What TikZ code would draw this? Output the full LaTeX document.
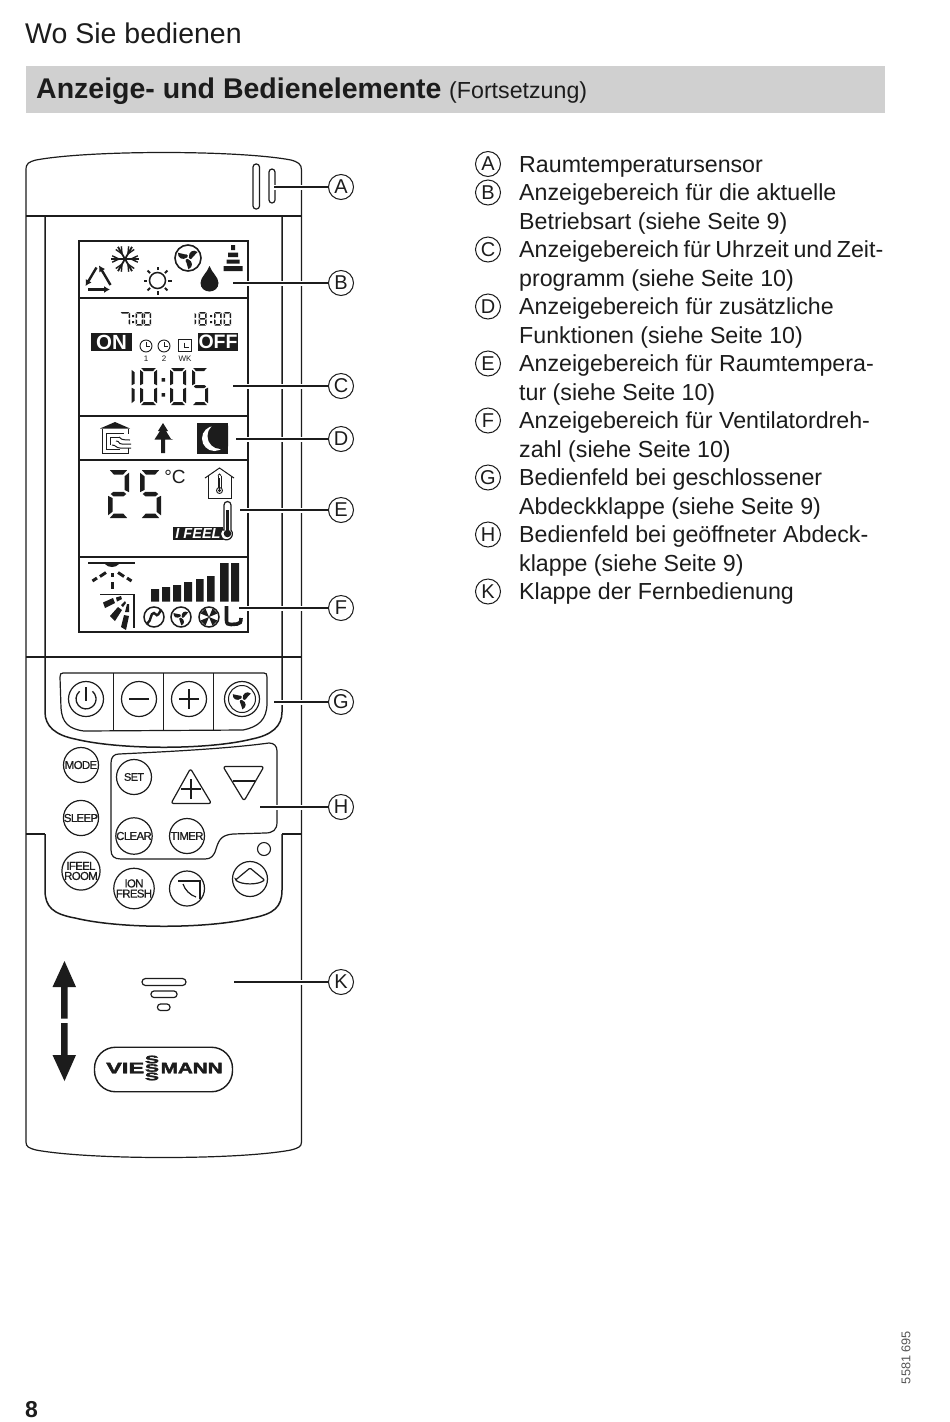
\documentclass[tikz,border=0pt]{standalone}
\usepackage{fontspec}
\usepackage{graphicx}
\setmainfont{Liberation Sans}
\usetikzlibrary{calc,arrows.meta}
\definecolor{ink}{HTML}{1C1C1C}
\definecolor{band}{HTML}{D0D0D0}
\newcommand{\fsz}[1]{\fontsize{#1}{#1}\selectfont}
\newcommand{\keyfont}[1]{\fsz{#1}\addfontfeatures{LetterSpace=-6,FakeBold=0.5}}
\newcommand{\logofont}{\bfseries\addfontfeatures{FakeBold=2.5}}
\tikzset{
  every picture/.style={x=1pt,y=-1pt},
  ln/.style={draw=ink,line width=1.2pt},
  thickl/.style={draw=ink,line width=1.5pt},
  txt/.style={anchor=base west,inner sep=0pt,text=ink,font=\fsz{23.2}},
  tag/.style={circle,draw=ink,line width=1pt,fill=white,minimum size=25pt,inner sep=0pt,text=ink,font=\fsz{20}},
  listtag/.style={tag},
  callout/.style={draw=ink,line width=1.3pt,preaction={draw=white,line width=5pt}},
  keycirc/.style={circle,draw=ink,line width=1.2pt,fill=white,minimum size=35pt,inner sep=0pt,text=ink,align=center},
  triarrow/.style={draw=ink,line width=2.4pt},
}
% seven segment digit: x y w h t segments
\newcommand{\sevseg}[6]{%
  \def\dx{#1}\def\dy{#2}\def\dw{#3}\def\dh{#4}\def\dt{#5}%
  \foreach \s in {#6}{\csname sg\s\endcsname}}
\newcommand{\sga}{\fill[ink] (\dx+\dt*.4,\dy) -- (\dx+\dw-\dt*.4,\dy) -- (\dx+\dw-\dt*1.3,\dy+\dt) -- (\dx+\dt*1.3,\dy+\dt) -- cycle;}
\newcommand{\sgd}{\fill[ink] (\dx+\dt*.4,\dy+\dh) -- (\dx+\dw-\dt*.4,\dy+\dh) -- (\dx+\dw-\dt*1.3,\dy+\dh-\dt) -- (\dx+\dt*1.3,\dy+\dh-\dt) -- cycle;}
\newcommand{\sgg}{\fill[ink] (\dx+\dt*.6,\dy+\dh*.5) -- (\dx+\dt*1.2,\dy+\dh*.5-\dt*.5) -- (\dx+\dw-\dt*1.2,\dy+\dh*.5-\dt*.5) -- (\dx+\dw-\dt*.6,\dy+\dh*.5) -- (\dx+\dw-\dt*1.2,\dy+\dh*.5+\dt*.5) -- (\dx+\dt*1.2,\dy+\dh*.5+\dt*.5) -- cycle;}
\newcommand{\sgf}{\fill[ink] (\dx,\dy+\dt*.6) -- (\dx+\dt,\dy+\dt*1.4) -- (\dx+\dt,\dy+\dh*.5-\dt*.9) -- (\dx,\dy+\dh*.5-\dt*.4) -- cycle;}
\newcommand{\sge}{\fill[ink] (\dx,\dy+\dh*.5+\dt*.4) -- (\dx+\dt,\dy+\dh*.5+\dt*.9) -- (\dx+\dt,\dy+\dh-\dt*1.4) -- (\dx,\dy+\dh-\dt*.6) -- cycle;}
\newcommand{\sgb}{\fill[ink] (\dx+\dw,\dy+\dt*.6) -- (\dx+\dw-\dt,\dy+\dt*1.4) -- (\dx+\dw-\dt,\dy+\dh*.5-\dt*.9) -- (\dx+\dw,\dy+\dh*.5-\dt*.4) -- cycle;}
\newcommand{\sgc}{\fill[ink] (\dx+\dw,\dy+\dh*.5+\dt*.4) -- (\dx+\dw-\dt,\dy+\dh*.5+\dt*.9) -- (\dx+\dw-\dt,\dy+\dh-\dt*1.4) -- (\dx+\dw,\dy+\dh-\dt*.6) -- cycle;}
% three-bladed fan: x y r
\newcommand{\fanblades}[3]{%
  \foreach \a in {15,135,255}{%
    \begin{scope}[shift={(#1,#2)},rotate=\a,scale=#3]
      \fill[ink] (0.08,0) .. controls (.15,-.5) and (.62,-.62) .. (.9,-.28)
        .. controls (.72,-.12) and (.4,-.02) .. (.3,.12) .. controls (.2,.2) and (.1,.12) .. cycle;
    \end{scope}}}
\begin{document}
\begin{tikzpicture}
\useasboundingbox (0,0) rectangle (950,1422);
\fill[white] (0,0) rectangle (950,1422);
% header
\node[txt,font=\fsz{28.5}] (title) at (25,43) {Wo Sie bedienen};
\fill[band] (26,66) rectangle (884.5,113);
\node[txt,font=\fsz{28.5}\bfseries] (head) at (36,98) {Anzeige- und Bedienelemente};
\node[txt] (headb) at (449,98.5) {(Fortsetzung)};
\node[txt,font=\fsz{23}\bfseries] (pageno) at (25,1417) {8};
\node[inner sep=0pt,rotate=90,text=ink!75,font=\fsz{12.7}] (docno) at (906,1357.5) {5581 695};
% body of the remote control
\draw[ln] (26,170) .. controls (26,163) and (29,162) .. (36,160) .. controls (90,150) and (238,150) .. (291,160)
  .. controls (298,162) and (301.5,164) .. (301.5,170) -- (301.5,1142)
  .. controls (301.5,1147) and (298,1148) .. (291,1150) .. controls (238,1160) and (90,1160) .. (36,1150)
  .. controls (29,1148) and (26,1147) .. (26,1142) -- cycle;
\draw[ln] (26,216) -- (301.5,216);
\draw[ln] (26,657) -- (301.5,657);
\draw[thickl] (45,216) -- (45,712) .. controls (45,726) and (55,735) .. (75,739) .. controls (120,750) and (208,750) .. (252,739)
  .. controls (272,735) and (282,726) .. (282,712) -- (282,216);
\draw[ln] (26,834) -- (45,834);
\draw[ln] (282,834) -- (301.5,834);
\draw[thickl] (45,834) -- (45,890) .. controls (45,907) and (53,914) .. (75,918) .. controls (120,929) and (208,929) .. (252,918)
  .. controls (274,914) and (282,907) .. (282,890) -- (282,834);
% sensor slits
\draw[ln,rounded corners=3pt] (253,164) rectangle (259.5,209);
\draw[ln,rounded corners=3pt] (269,169) rectangle (275,203);
% LCD
\draw[thickl,fill=white] (79,241) rectangle (248,632);
\draw[thickl] (79,298) -- (248,298) (79,416) -- (248,416) (79,460) -- (248,460) (79,557) -- (248,557);
% --- B: mode icons
\draw[triarrow,-{Latex[length=6pt,width=7pt]}] (88,289.5) -- (110,289.5);
\draw[triarrow,{Latex[length=6pt,width=7pt]}-] (85.5,286) -- (96.5,267.5);
\draw[triarrow,{Latex[length=6pt,width=7pt]}-] (99,265.5) -- (110.5,285);
% snowflake
\begin{scope}[shift={(125,259)}]
\foreach \a in {0,60,120}{
  \draw[ln,line width=1.8pt] (\a:14) -- (\a+180:14);
  \foreach \b in {0,180}{
    \draw[ln,line width=1.4pt] ($(\a+\b:9)+(\a+\b+40:5)$) -- (\a+\b:6) -- ($(\a+\b:9)+(\a+\b-40:5)$);
  }}
\end{scope}
% sun
\draw[ln,line width=1.5pt] (157.5,280.5) circle [radius=8pt];
\foreach \a in {0,45,...,315}{\draw[ln,line width=2pt] ($(157.5,280.5)+(\a:10.5)$) -- ($(157.5,280.5)+(\a:14)$);}
% fan
\draw[ln,line width=1.6pt] (188,258) circle [radius=13pt];
\fanblades{188}{258}{12}
% drop
\fill[ink] (209.5,266) .. controls (212,273) and (218.5,277) .. (218.5,283) .. controls (218.5,288) and (214.5,291.5) .. (209.5,291.5)
  .. controls (204.5,291.5) and (200.5,288) .. (200.5,283) .. controls (200.5,277) and (207,273) .. (209.5,266) -- cycle;
% stack
\fill[ink] (231,245) rectangle (235,250) (228,252.5) rectangle (238,257) (226.5,259.5) rectangle (239.5,263.5) (223.5,266) rectangle (242.5,271);
% --- C: clock displays
\sevseg{120}{312}{10}{13.5}{1.5}{a,b,c}
\fill[ink] (132,315) rectangle (134,317) (132,321) rectangle (134,323);
\sevseg{135.5}{312}{7.5}{13.5}{1.5}{a,b,c,d,e,f}
\sevseg{143.5}{312}{7.5}{13.5}{1.5}{a,b,c,d,e,f}
\sevseg{194.5}{312}{1.5}{13.5}{1.5}{f,e}
\sevseg{198.5}{312}{8}{13.5}{1.5}{a,b,c,d,e,f,g}
\fill[ink] (210,315) rectangle (212,317) (210,321) rectangle (212,323);
\sevseg{214}{312}{7.5}{13.5}{1.5}{a,b,c,d,e,f}
\sevseg{223.5}{312}{7.5}{13.5}{1.5}{a,b,c,d,e,f}
\node[fill=ink,text=white,inner sep=0pt,minimum width=41pt,minimum height=18pt,font=\fsz{20.5}\bfseries] (on) at (111.5,342) {ON};
\node[fill=ink,text=white,inner sep=0pt,minimum width=40pt,minimum height=18pt,font=\fsz{19.5}\bfseries] (off) at (218,342) {OFF};
\foreach \cx in {146,164}{
  \draw[ln,line width=.9pt] (\cx,346) circle [radius=6pt];
  \draw[ln,line width=.9pt] (\cx,342) -- (\cx,346) -- (\cx+4,346);}
\draw[ln,line width=1pt] (178.5,339.5) rectangle (191,351.5);
\draw[ln,line width=1pt] (184.5,342.5) -- (184.5,347) -- (188.5,347);
\node[inner sep=0pt,text=ink,font=\fsz{8}] (c1) at (146,358.5) {1};
\node[inner sep=0pt,text=ink,font=\fsz{8}] (c2) at (164,358.5) {2};
\node[inner sep=0pt,text=ink,font=\fsz{8}] (cw) at (185,358.5) {WK};
\sevseg{131.5}{368}{4}{37}{3}{f,e}
\sevseg{140}{368}{17}{37}{3}{a,b,c,d,e,f}
\fill[ink] (161.5,378) rectangle (165,381.5) (161.5,393) rectangle (165,396.5);
\sevseg{170}{368}{16}{37}{3}{a,b,c,d,e,f}
\sevseg{192}{368}{16}{37}{3}{a,f,g,c,d}
% --- D: function icons
\fill[ink] (100,428.5) -- (115,422) -- (130,428.5) -- cycle;
\draw[ln,line width=1pt] (102,429) -- (102,453) -- (128,453) -- (128,448);
\draw[ln,line width=1pt] (128,429) -- (128,434);
\draw[ln,line width=1pt] (106,449) -- (106,433) -- (124,433);
\draw[ln,line width=1pt] (110,445) -- (110,437) -- (119,437) (106,449) -- (120,449);
\draw[ln,line width=1pt] (116,441) .. controls (120,441) and (118,444) .. (122,444) -- (131,444);
\draw[ln,line width=1pt] (112,445) .. controls (116,445) and (116,448) .. (120,448) -- (131,448);
\draw[ln,line width=1pt] (119,437) .. controls (120,439) and (122,440) .. (130,440);
\fill[ink] (163,423) -- (168,431) -- (166,431) -- (171,439) -- (173,439.5) -- (165,439.5) -- (165,453) -- (161,453) -- (161,439.5) -- (154.5,439.5) -- (160,431) -- (158,431) -- cycle;
\fill[ink] (197,423) rectangle (228,453.5);
\begin{scope}
\clip (197,423) rectangle (228,453.5);
\fill[white] (214.5,438.5) circle [radius=12.5pt];
\fill[ink] (220.5,436) circle [radius=13pt];
\end{scope}
% --- E: temperature
\sevseg{108}{470}{21}{48}{4.5}{a,b,g,e,d}
\sevseg{140}{470}{21}{48}{4.5}{a,f,g,c,d}
\node[inner sep=0pt,text=ink,font=\fsz{19}] (degc) at (175,477) {°C};
\draw[ln,line width=1pt] (205,478) -- (219.5,468) -- (234,478);
\draw[ln,line width=1pt] (208,476) -- (208,498) -- (231.5,498) -- (231.5,476);
\draw[ln,line width=.9pt] (218,475.5) -- (218,488) (221,475.5) -- (221,488);
\draw[ln,line width=.9pt] (218,475.5) arc [start angle=180,end angle=0,radius=1.5pt];
\fill[ink] (219.2,478) rectangle (219.8,490);
\draw[ln,line width=.9pt] (219.5,490.5) circle [radius=3pt];
\fill[ink] (219.5,490.5) circle [radius=1.6pt];
\node[fill=ink,text=white,inner sep=0pt,minimum width=50pt,minimum height=13pt,font=\fsz{14.5}\bfseries\itshape] (ifeel) at (198,533.5) {I FEEL};
\draw[ln,fill=white,line width=1.2pt] (224,530) -- (224,505) arc [start angle=180,end angle=0,radius=3.5pt] -- (231,530) arc [start angle=40,end angle=-220,radius=6pt] -- cycle;
\fill[ink] (226,510) rectangle (229,532);
\fill[ink] (227.5,533.5) circle [radius=3.8pt];
% --- F: air flow and fan
\draw[ln,line width=2.6pt] (88,563) -- (135,563);
\fill[ink] (105,564) .. controls (108,568) and (116,568) .. (119,564) -- cycle;
\draw[ln,line width=3pt] (112,573) -- (112,577) (112,582) -- (112,589);
\draw[ln,line width=3pt] (92.5,581) -- (97,578) (100,576.5) -- (106,572.5);
\draw[ln,line width=3pt] (131.5,581) -- (127,578) (124,576.5) -- (118,572.5);
\draw[ln,line width=1.8pt] (100,594.5) -- (134,594.5) -- (134,628);
\fill[ink] (103,602.5) -- (113,598) -- (115,603) -- (105,608) -- cycle (116,597.5) -- (121,596) -- (122,599) -- (117,601.5) -- cycle;
\fill[ink] (110,616) -- (118,607) -- (122,610) -- (115,621) -- cycle (121,605) -- (125,601) -- (126,603) -- (123,607) -- cycle;
\fill[ink] (121,627) -- (124,615) -- (129,616) -- (126,630) -- cycle (125,612) -- (127,604) -- (129,604) -- (129,612) -- cycle;
\fill[ink] (151,601.5) rectangle (159,589) (162,601.5) rectangle (170,587) (173,601.5) rectangle (181,585) (184,601.5) rectangle (192,582) (196,601.5) rectangle (203.5,579) (207,601.5) rectangle (214.5,576);
\fill[ink] (220,601.5) rectangle (228.5,563) (231,601.5) rectangle (239,563);
\draw[ln,line width=1.5pt] (154,617) circle [radius=10pt] (181,617) circle [radius=10pt] (209,617) circle [radius=10pt];
\draw[ln,line width=2.4pt] (147,624) .. controls (152,620) and (150,613) .. (154,613) .. controls (157,614) and (156,619) .. (161,610);
\fanblades{181}{617}{9}
\foreach \a in {45,135,225,315}{
 \begin{scope}[shift={(209,617)},rotate=\a]
 \fill[ink] (0,0) -- (8.5,-3.5) -- (8.5,3.5) -- cycle;
 \end{scope}}
\draw[ln,line width=3.6pt] (226.5,606) -- (226.5,620) .. controls (226.5,624) and (228,624.5) .. (231,624.5) -- (237,624) .. controls (240,624) and (241,622) .. (241,618);
% --- control panel G
\draw[ln] (63,673) -- (264,673) .. controls (266,673) and (267,674) .. (267,677) -- (267,703) .. controls (267,720) and (258,727) .. (243,730) -- (84,731)
 .. controls (68,729) and (62,722) .. (61,708) -- (60,677) .. controls (60,674) and (61,673) .. (63,673) -- cycle;
\draw[ln,line width=1pt] (113.5,673) -- (113.5,731) (163.5,673) -- (163.5,731) (213.5,673) -- (213.5,731);
\node[keycirc] (kpow) at (86,699) {};
\node[keycirc] (kmin) at (139,699) {};
\node[keycirc] (kplu) at (189,699) {};
\node[keycirc] (kfan) at (242,699) {};
\draw[ln,line width=1.3pt] (79.6,691.3) arc [start angle=130,end angle=410,radius=10pt];
\draw[ln,line width=1.3pt] (86,687) -- (86,701);
\draw[ln,line width=1.8pt] (129,699) -- (149,699);
\draw[ln,line width=1.8pt] (179,699) -- (199,699) (189,689) -- (189,709);
\draw[ln,line width=1pt] (242,699) circle [radius=13.5pt];
\fanblades{242}{699}{11}
% --- flap panel H
\draw[ln] (119,754) .. controls (160,752) and (225,749) .. (269,743) .. controls (274,743) and (277,746) .. (277,751) -- (277,822)
 .. controls (277,830) and (273,833) .. (265,833) -- (233,834) .. controls (222,835) and (219,839) .. (216,849)
 .. controls (214,856) and (211,859) .. (205,859) -- (121,859) .. controls (114,859) and (111,856) .. (111,850) -- (111,763)
 .. controls (111,757) and (114,754) .. (119,754) -- cycle;
\node[keycirc] (kmode) at (81,765) {\keyfont{11.5}MODE};
\node[keycirc] (ksleep) at (81,818) {\keyfont{11.5}SLEEP};
\node[keycirc] (kfeel) at (81,871) {\keyfont{11.5}\shortstack{IFEEL\\[-1pt]ROOM}};
\node[keycirc] (kset) at (134,777) {\keyfont{11}SET};
\node[keycirc] (kclear) at (134,836) {\keyfont{11.5}CLEAR};
\node[keycirc] (ktimer) at (187,836) {\keyfont{11.5}TIMER};
\node[keycirc] (kion) at (134,888.5) {\keyfont{11.5}\shortstack{ION\\[-1pt]FRESH}};
\node[keycirc] (kvane) at (187,888.5) {};
\node[keycirc] (kup) at (250,879) {};
\node[circle,draw=ink,line width=1.1pt,minimum size=13pt,inner sep=0pt] (led) at (264,849) {};
\draw[ln,line width=1.2pt] (178,881) -- (200,881) -- (200,899);
\draw[ln,line width=1.2pt] (183,884) .. controls (185,890) and (190,895) .. (196,897);
\draw[ln,line width=1.2pt,rounded corners=1pt] (235.5,880) -- (250,868) -- (264.5,880) .. controls (258,885) and (242,885) .. cycle;
\draw[ln,line join=round,rounded corners=2.5pt] (190.5,768.5) -- (211.5,803.5) -- (171,803.5) -- cycle;
\draw[ln,line width=1.8pt] (181,789) -- (201,789) (191,779) -- (191,799);
\draw[ln,line join=round,rounded corners=2.5pt] (223,766.5) -- (264,766.5) -- (244,801) -- cycle;
\draw[ln,line width=1.8pt] (233,781) -- (255,781);
% --- flap lower part
\draw[ln,rounded corners=3.5pt] (142,978.5) rectangle (186,985.5);
\draw[ln,rounded corners=3pt] (151,991) rectangle (177,997.5);
\draw[ln,rounded corners=3pt] (157.5,1004) rectangle (170,1010.5);
\fill[ink] (64.5,961) -- (76,987) -- (67.5,987) -- (67.5,1018.5) -- (61,1018.5) -- (61,987) -- (52.5,987) -- cycle;
\fill[ink] (64.5,1081) -- (76,1055) -- (67.5,1055) -- (67.5,1023) -- (61,1023) -- (61,1055) -- (52.5,1055) -- cycle;
\node[draw=ink,line width=1.4pt,rounded corners=21pt,minimum width=138pt,minimum height=44.5pt,inner sep=0pt] (logo) at (163.5,1069.5) {};
\node[inner sep=0pt,anchor=west,text=ink] (lgv) at (106,1068) {\resizebox{38pt}{10.5pt}{\logofont VIE}};
\node[inner sep=0pt,anchor=west,text=ink] (lgm) at (160.5,1068) {\resizebox{62pt}{10.5pt}{\logofont MANN}};
\node[inner sep=0pt,text=ink] (lgs1) at (152,1059.5) {\resizebox{14pt}{7.5pt}{\logofont S}};
\node[inner sep=0pt,text=ink] (lgs2) at (152,1068) {\resizebox{14pt}{7.5pt}{\logofont S}};
\node[inner sep=0pt,text=ink] (lgs3) at (152,1076.5) {\resizebox{14pt}{7.5pt}{\logofont S}};
% --- callouts
\foreach \l/\y in {A/187,B/283,C/386,D/439,E/510,F/608,G/702,H/807,K/982}{
  \node[tag] (t\l) at (341,\y) {\l};}
\coordinate (eA) at (274,187);
\coordinate (eB) at (233,283);
\coordinate (eC) at (233,386);
\coordinate (eD) at (236,439);
\coordinate (eE) at (240,510);
\coordinate (eF) at (239,608);
\coordinate (eG) at (274,702);
\coordinate (eH) at (260,807);
\coordinate (eK) at (234,982);
\foreach \l in {A,B,C,D,E,F,G,H,K}{\draw[callout] (e\l) -- (t\l);}
% --- legend
\foreach \l/\i in {A/0,B/1,C/3,D/5,E/7,F/9,G/11,H/13,K/15}{
  \node[listtag] (l\l) at (488,{164+28.5*\i}) {\l};}
\foreach \n/\i/\s in {
 a/0/Raumtemperatursensor,
 b/1/Anzeigebereich für die aktuelle,
 c/2/Betriebsart (siehe Seite 9),
 d/3/{\spaceskip=.2em Anzeigebereich für Uhrzeit und Zeit-},
 e/4/programm (siehe Seite 10),
 f/5/Anzeigebereich für zusätzliche,
 g/6/Funktionen (siehe Seite 10),
 h/7/Anzeigebereich für Raumtempera-,
 i/8/tur (siehe Seite 10),
 j/9/Anzeigebereich für Ventilatordreh-,
 k/10/zahl (siehe Seite 10),
 m/11/Bedienfeld bei geschlossener,
 n/12/Abdeckklappe (siehe Seite 9),
 o/13/Bedienfeld bei geöffneter Abdeck-,
 p/14/klappe (siehe Seite 9),
 q/15/Klappe der Fernbedienung}{
  \node[txt] (x\n) at (519,{172+28.5*\i}) {\s};}
\end{tikzpicture}
\end{document}
